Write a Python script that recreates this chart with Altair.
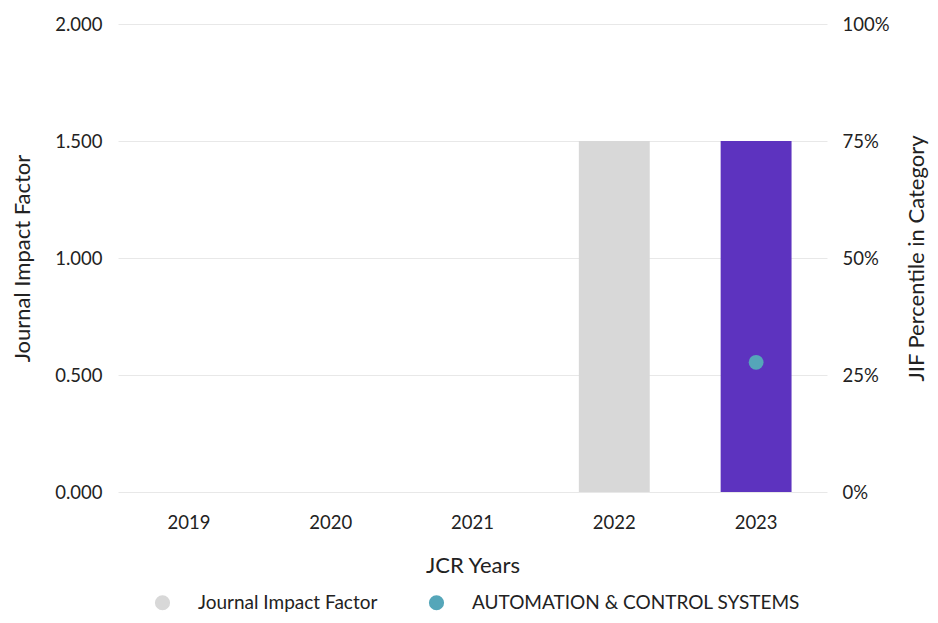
import altair as alt
import pandas as pd

years = ["2019", "2020", "2021", "2022", "2023"]
jif = [None, None, None, 1.5, 1.5]
bar_colors = ["#d8d8d8", "#d8d8d8", "#d8d8d8", "#d8d8d8", "#5d33bf"]
pct_years = ["2023"]
pct_values = [0.277]
series_names = ["Journal Impact Factor", "AUTOMATION & CONTROL SYSTEMS"]
series_colors = ["#d8d8d8", "#55a6b9"]

FONT = "Lato"
TICK_FS = 18.5
TITLE_FS = 22
LEG_FS = 19

bars_df = pd.DataFrame({"year": years, "jif": jif, "barColor": bar_colors}).dropna()
pts_df = pd.DataFrame({"year": pct_years, "pct": pct_values,
                       "series": [series_names[1]] * len(pct_years)})

xscale = alt.Scale(domain=years, paddingInner=0.5, paddingOuter=0.25)

x_enc = alt.X("year:O", scale=xscale,
              axis=alt.Axis(title="JCR Years", labelAngle=0, ticks=False, domain=False,
                            labelPadding=21, titlePadding=24, labelFontSize=TICK_FS,
                            titleFontSize=TITLE_FS, labelColor="#222", titleColor="#222",
                            titleFontWeight="normal", labelFont=FONT, titleFont=FONT))

bars = alt.Chart(bars_df).mark_bar().encode(
    x=x_enc,
    y=alt.Y("jif:Q", scale=alt.Scale(domain=[0, 2]),
            axis=alt.Axis(title="Journal Impact Factor", values=[0, 0.5, 1, 1.5, 2],
                          format=".3f", ticks=False, domain=False, labelPadding=16,
                          titlePadding=20, gridColor="#e8e8e8", labelFontSize=TICK_FS,
                          titleFontSize=TITLE_FS, labelColor="#222", titleColor="#222",
                          titleFontWeight="normal", labelFont=FONT, titleFont=FONT)),
    color=alt.Color("barColor:N", scale=None),
)

points = alt.Chart(pts_df).mark_circle(size=220, opacity=1).encode(
    x=alt.X("year:O", scale=xscale),
    y=alt.Y("pct:Q", scale=alt.Scale(domain=[0, 1]),
            axis=alt.Axis(title="JIF Percentile in Category", orient="right",
                          values=[0, 0.25, 0.5, 0.75, 1], format=".0%", grid=False,
                          ticks=False, domain=False, labelPadding=15, titlePadding=17,
                          titleAngle=270, titleBaseline="top",
                          labelFontSize=TICK_FS, titleFontSize=TITLE_FS, labelColor="#222",
                          titleColor="#222", titleFontWeight="normal",
                          labelFont=FONT, titleFont=FONT)),
    color=alt.Color("series:N",
                    scale=alt.Scale(domain=series_names, range=series_colors),
                    legend=alt.Legend(title=None, orient="none", direction="horizontal",
                                      legendX=35, legendY=569, symbolType="circle",
                                      symbolSize=230, symbolStrokeWidth=0,
                                      labelFontSize=LEG_FS, labelFont=FONT, labelColor="#222",
                                      labelOffset=26, columnPadding=49, labelLimit=500)),
)

chart = alt.layer(bars, points).resolve_scale(
    y="independent", color="independent"
).properties(
    width=922, height=468, background="white",
    padding={"left": 3, "top": 7, "right": 2, "bottom": 37},
    autosize=alt.AutoSizeParams(type="fit-x", contains="padding"),
).configure_view(strokeWidth=0, stroke=None)

chart.save("out.html", embed_options={"renderer": "svg", "actions": False})
